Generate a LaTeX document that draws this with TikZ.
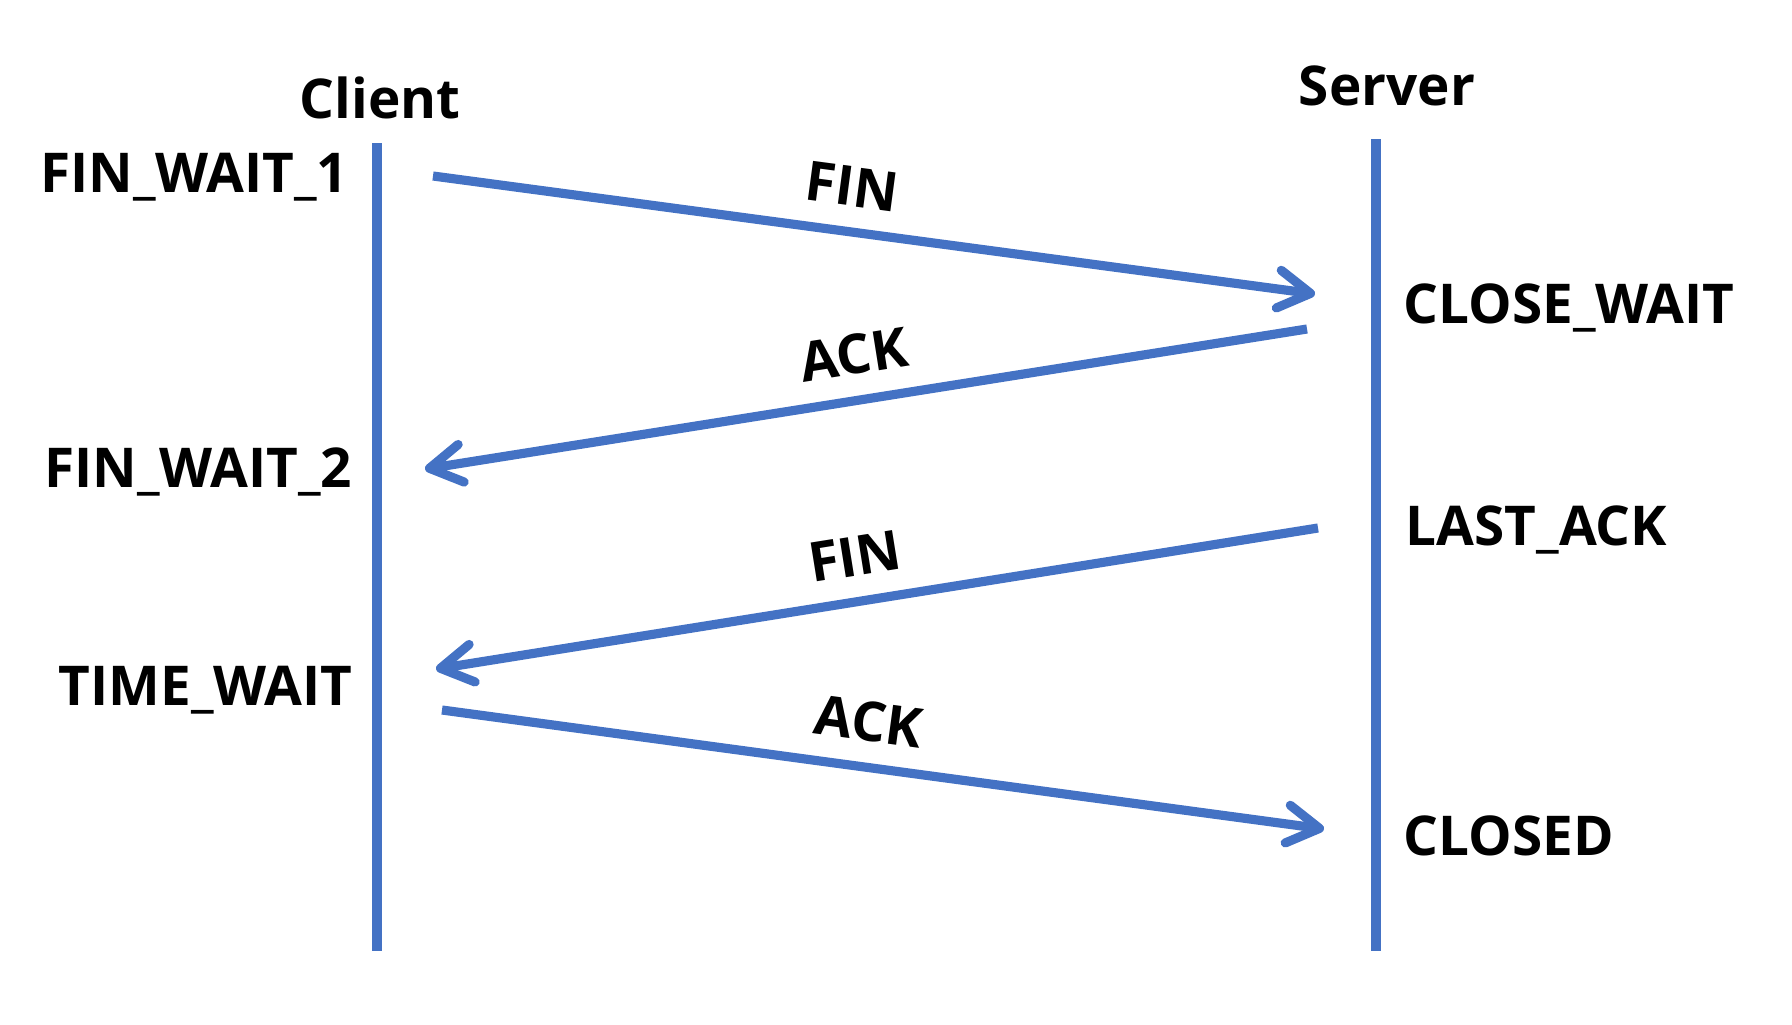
\documentclass[tikz,border=0pt]{standalone}
\usepackage{fontspec}
\setmainfont{Open Sans}
\usetikzlibrary{arrows.meta}
\definecolor{lineblue}{HTML}{4472C4}
\tikzset{
  lifeline/.style={lineblue, line width=2.9pt},
  msg/.style={lineblue, line width=2.6pt,
    -{Straight Barb[length=0.32cm, width=0.38cm, line cap=round, line join=round]}},
  state/.style={font=\fontsize{15.6}{18}\selectfont\bfseries, inner sep=0pt},
  lbl/.style={font=\fontsize{15.6}{18}\selectfont\bfseries, text=black, sloped, above, inner sep=6pt},
}
\begin{document}
\begin{tikzpicture}[x=0.01cm, y=-0.01cm]
  \useasboundingbox (0,0) rectangle (1792,1024);
  % lifelines
  \coordinate (ctop) at (377,143);
  \coordinate (cbot) at (377,951);
  \coordinate (stop) at (1376,139);
  \coordinate (sbot) at (1376,951);
  \draw[lifeline] (ctop) -- (cbot);
  \draw[lifeline] (stop) -- (sbot);
  \node[state, anchor=base] (client) at (380,118) {Client};
  \node[state, anchor=base] (server) at (1387,105) {Server};
  % states
  \node[state, anchor=base east] (fw1) at (349,192) {FIN\_WAIT\_1};
  \node[state, anchor=base east] (fw2) at (353,487) {FIN\_WAIT\_2};
  \node[state, anchor=base east] (tw) at (353,705) {TIME\_WAIT};
  \node[state, anchor=base west] (cw) at (1403,323) {CLOSE\_WAIT};
  \node[state, anchor=base west] (la) at (1405,545) {LAST\_ACK};
  \node[state, anchor=base west] (cl) at (1403,855) {CLOSED};
  % message ends
  \coordinate (m1a) at (433,176);
  \coordinate (m1b) at (1315,294);
  \coordinate (m2a) at (1307,329);
  \coordinate (m2b) at (425,469);
  \coordinate (m3a) at (1318,528);
  \coordinate (m3b) at (436,669);
  \coordinate (m4a) at (442,710);
  \coordinate (m4b) at (1324,829);
  \draw[msg] (m1a) -- node[lbl, pos=0.468] (fin1) {FIN} (m1b);
  \draw[msg] (m2a) -- node[lbl, pos=0.506] (ack1) {ACK} (m2b);
  \draw[msg] (m3a) -- node[lbl, pos=0.517] (fin2) {FIN} (m3b);
  \draw[msg] (m4a) -- node[lbl, pos=0.477] (ack2) {ACK} (m4b);
\end{tikzpicture}
\end{document}
